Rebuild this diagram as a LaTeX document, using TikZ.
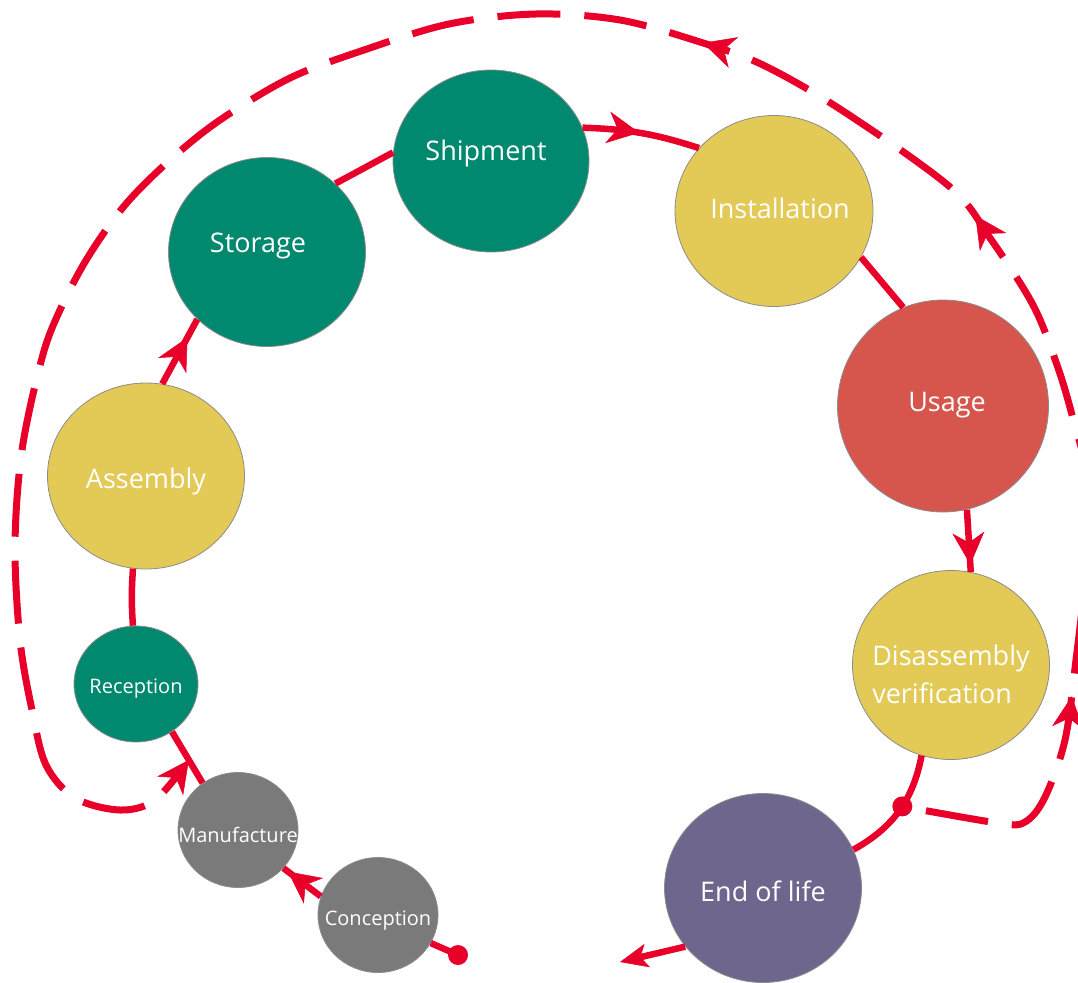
\documentclass[tikz,border=0pt]{standalone}
\usepackage{fontspec}
\setmainfont{Open Sans}
\usetikzlibrary{arrows.meta,decorations.markings,shapes.geometric,calc}
\definecolor{lred}{RGB}{232,0,42}
\definecolor{cgreen}{RGB}{0,137,111}
\definecolor{cyellow}{RGB}{227,201,85}
\definecolor{cred}{RGB}{214,86,78}
\definecolor{cpurple}{RGB}{110,102,140}
\definecolor{cgray}{RGB}{122,122,122}
\newcommand\stagetext[2]{\makebox[0pt]{\hspace{#1}#2}}
\begin{document}
\begin{tikzpicture}[x=1pt,y=-1pt,
  stage/.style={ellipse, inner sep=0pt, text=white, draw=black!45, line width=0.8pt,
    font=\fontsize{27}{38}\selectfont},
  big/.style={minimum width=197pt, minimum height=189pt},
  small/.style={minimum width=121pt, minimum height=116pt, font=\fontsize{20}{24}\selectfont},
  bl/.style={text height=#1, text depth=0pt},
  flow/.style={draw=lred, line width=6.5pt},
  tipA/.tip={Stealth[length=32pt,width=32pt,inset=10pt,line width=0.5pt]},
  tipB/.tip={Stealth[length=28pt,width=24pt,inset=7pt,line width=0.5pt]},
  midarrow/.style={postaction={decorate}, decoration={markings, mark=at position #1 with {\arrow{tipA}}}},
  loop/.style={draw=lred, line width=7pt, dash pattern=on 63pt off 24pt, dash phase=63pt},
]
\useasboundingbox (0,0) rectangle (1078,982);

% stages
\node[stage,fill=cgreen,minimum width=196pt,minimum height=182pt,text height=0pt,text depth=2pt] (shp) at (491,161) {\stagetext{-10pt}{Shipment}};
\node[stage,fill=cyellow,minimum width=198pt,minimum height=191pt,bl=14pt] (ins) at (774,211) {\stagetext{12pt}{Installation}};
\node[stage,fill=cred,minimum width=211pt,minimum height=212pt,bl=10pt] (use) at (943,406) {\stagetext{8pt}{Usage}};
\node[stage,big,fill=cyellow,text height=0pt,text depth=0pt] (dis) at (951,665) {\makebox[0pt]{\begin{tabular}[t]{@{}l@{}}Disassembly\\verification\end{tabular}}};
\node[stage,big,fill=cpurple,bl=26pt] (eol) at (763,888) {\stagetext{0pt}{End of life}};
\node[stage,big,fill=cgreen,text height=0pt,text depth=0pt] (sto) at (267,252) {\stagetext{-18pt}{Storage}};
\node[stage,fill=cyellow,minimum width=197pt,minimum height=186pt,bl=24pt] (asm) at (146,476) {\stagetext{0pt}{Assembly}};
\node[stage,small,fill=cgreen,minimum width=124pt,bl=18pt] (rec) at (136,684) {\stagetext{0pt}{Reception}};
\node[stage,small,fill=cgray,minimum width=120pt,minimum height=115pt,bl=24pt] (man) at (238,830) {\stagetext{0pt}{Manufacture}};
\node[stage,small,fill=cgray,minimum width=120pt,minimum height=115pt,bl=20pt] (con) at (378,915) {\stagetext{0pt}{Conception}};

% solid flow
\coordinate (cdot) at (458,955);
\draw[flow] (cdot) -- (con.332);
\fill[lred] (cdot) circle[radius=10pt];
\draw[flow, midarrow=0.88] (con.162) -- (man.320);
\draw[flow] (man.127) -- (rec.307);
\draw[flow] (rec.93) to[bend left=4] (asm.262);
\draw[flow, midarrow=0.72] (asm.80) -- (sto.224);
\draw[flow] (sto.45) -- (shp.175);
\draw[flow, midarrow=0.48] (shp.20) to[bend left=8] (ins.140);
\draw[flow] (ins.332) -- (use.112);
\draw[flow, midarrow=0.88] (use.283) -- (dis.78);
\draw[flow] (dis.252) to[bend left=25] coordinate[pos=0.45] (dot2) (eol.23);
\coordinate (eout) at (620,962);
\draw[flow, -{tipB}] (eol.217) -- (eout);

% dashed return loop
\coordinate (rm) at ($(man.127)!0.45!(rec.307)$);
\draw[loop, -{tipA},
  postaction={decorate},
  decoration={markings,
    mark=at position 262pt with {\arrow{tipA}},
    mark=at position 770pt with {\arrow{tipA}},
    mark=at position 1096pt with {\arrow{tipA}}}]
  plot[smooth, tension=0.55] coordinates {(dot2) (998,823) (1025,822) (1045,797) (1065,740)
    (1076,660) (1086,570) (1090,490) (1072,415) (1057,365) (1033,305) (990,238) (950,187)
    (843,111) (763,65) (700,42) (620,20) (536,14) (449,24) (364,50) (290,78) (220,120)
    (170,160) (125,205) (88,257) (60,310) (42,358) (22,450) (15,545) (20,640) (32,710)
    (46,765) (75,798) (120,810) (155,800) (rm)};
\fill[lred] (dot2) circle[radius=10pt];
\end{tikzpicture}
\end{document}
